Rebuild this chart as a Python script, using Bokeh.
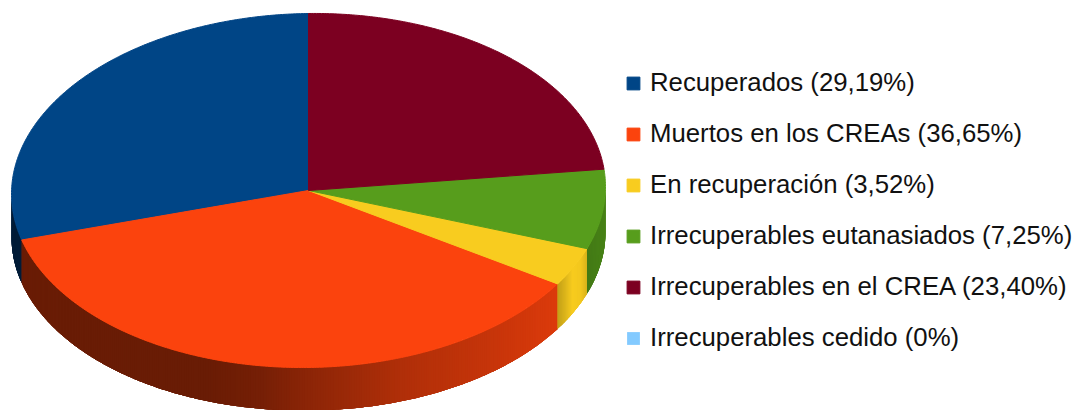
import numpy as np
from bokeh.plotting import figure
from bokeh.models import Legend, LegendItem, Range1d
from bokeh.embed import file_html
from bokeh.resources import INLINE

labels = ["Recuperados (29,19%)", "Muertos en los CREAs (36,65%)", "En recuperación (3,52%)",
          "Irrecuperables eutanasiados (7,25%)", "Irrecuperables en el CREA (23,40%)",
          "Irrecuperables cedido (0%)"]
values = [29.19, 36.65, 3.52, 7.25, 23.40, 0.0]
colors = ["#004586", "#fb430d", "#f8cc1f", "#579d1c", "#7c0021", "#83caff"]

W, H = 1073, 410
CX, CY, RX, RY, SHEAR = 308, 190, 297, 177, -0.012

# side-face brightness along x (px), by slice
light = [
    ([0, 300], [0.42, 0.42]),
    ([22, 205, 260, 308, 398, 498, 558], [0.42, 0.42, 0.47, 0.56, 0.70, 0.80, 0.88]),
    ([557, 564, 572, 580, 588], [0.78, 0.88, 1.0, 0.98, 0.85]),
    ([587, 608], [0.78, 0.84]),
    ([0, 1], [1, 1]),
    ([0, 1], [1, 1]),
]


def pt(th):
    x = CX - RX * np.sin(th)
    y = CY - RY * np.cos(th)
    return x, y + SHEAR * (x - CX)


def depth(x):
    return 43 + np.clip((x - CX) / 125, 0, 2)


def shade(hexcol, f):
    c = [int(hexcol[i:i + 2], 16) for i in (1, 3, 5)]
    return "#%02x%02x%02x" % tuple(int(min(255, v * f)) for v in c)


p = figure(width=W, height=H, x_range=Range1d(0, W), y_range=Range1d(H, 0),
           output_backend="svg", toolbar_location=None, min_border=0,
           outline_line_color=None, background_fill_color="white")
p.xaxis.visible = False
p.yaxis.visible = False
p.grid.visible = False

edges = np.radians(np.concatenate([[0], np.cumsum(values)]) / sum(values) * 360)

# side walls: base polygon per slice, then overlapping shaded strips
for i in range(len(values)):
    a = max(edges[i], np.pi / 2)
    b = min(edges[i + 1], 3 * np.pi / 2)
    if b <= a:
        continue
    t = np.linspace(a, b, max(2, int((b - a) / np.radians(0.5))) + 1)
    x, y = pt(t)
    yb = y + depth(x)
    xm = (x[:-1] + x[1:]) / 2
    base = shade(colors[i], float(np.mean(light[i][1])))
    p.patch(np.r_[x, x[::-1]], np.r_[y, yb[::-1]], fill_color=base, line_color=None)
    xs, ys, cs = [], [], []
    for j in range(len(xm)):
        k = min(j + 4, len(x) - 1)   # overlap the following strips to hide seams
        tt = np.arange(j, k + 1)
        xs.append(np.r_[x[tt], x[tt][::-1]])
        ys.append(np.r_[y[tt], yb[tt][::-1]])
        cs.append(shade(colors[i], float(np.interp(xm[j], *light[i]))))
    p.patches(xs, ys, fill_color=cs, line_color=None)

# top faces
items = []
for i, (lab, col) in enumerate(zip(labels, colors)):
    t = np.linspace(edges[i], edges[i + 1], max(2, int((edges[i + 1] - edges[i]) / np.radians(0.5))))
    x, y = pt(t)
    r = p.patch(np.r_[CX, x], np.r_[CY, y], fill_color=col,
                line_color=col if values[i] > 0 else None, line_width=1)
    items.append(LegendItem(label=lab, renderers=[r]))

leg = Legend(items=items, location=(625, 58), orientation="vertical",
             border_line_color=None, background_fill_alpha=0,
             label_text_font="Liberation Sans", label_text_font_size="25.75px",
             label_text_color="#111111", label_standoff=9, label_height=28,
             glyph_width=16, glyph_height=16, spacing=22, padding=0, margin=0)
p.add_layout(leg, "center")

open("out.html", "w").write(file_html(p, INLINE))
